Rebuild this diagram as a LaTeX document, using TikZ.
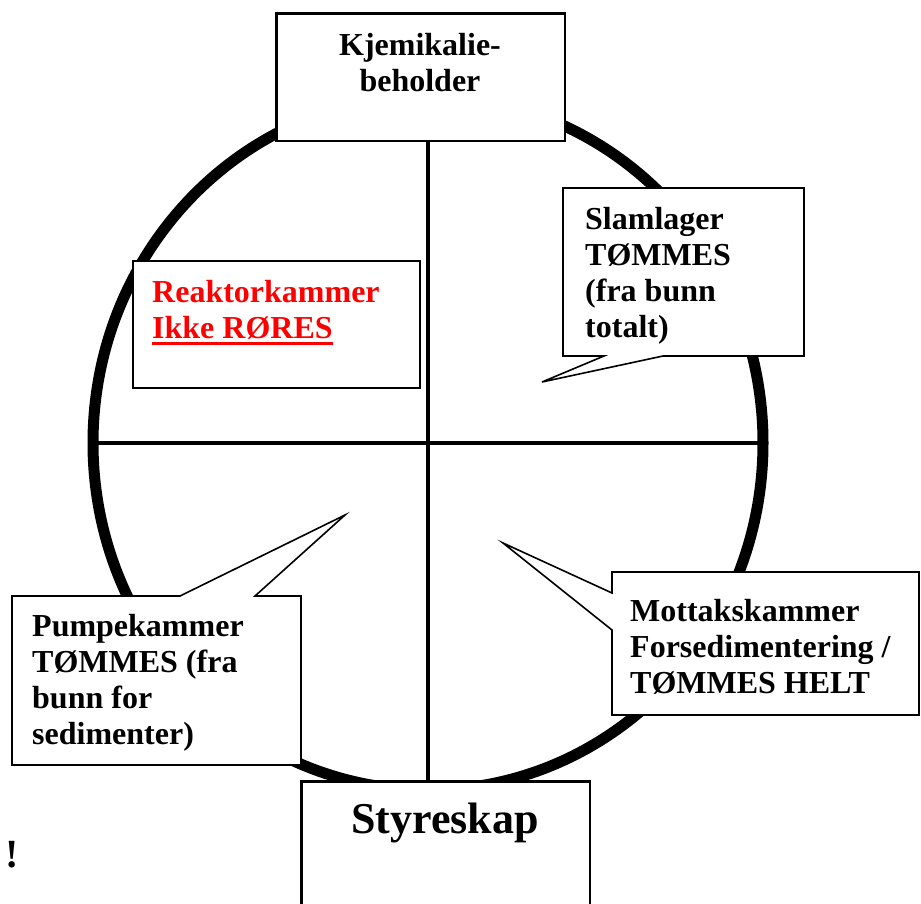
\documentclass[tikz,border=0pt]{standalone}
\usepackage{fontspec}
\setmainfont{Liberation Serif}
\newcommand\myul[1]{\setbox0\hbox{#1}\rlap{\rule[-7pt]{\wd0}{3.5pt}}\box0}
\begin{document}
\begin{tikzpicture}[x=1pt,y=-1pt,
  txt/.style={font=\fontsize{32}{36}\selectfont\bfseries, align=left, inner sep=0pt, anchor=base west},
  boxline/.style={draw=black, line width=1.6pt, fill=white},
  divider/.style={draw=black, line width=4pt},
  rim/.style={draw=black, line width=11pt}]
\useasboundingbox (0,0) rectangle (921,904);
\clip (0,0) rectangle (921,904);
% tank rim
\coordinate (c) at (428,443);
\draw[rim] (c) ellipse [x radius=335pt, y radius=347pt];
% boxes top and bottom
\node[boxline, minimum width=288pt, minimum height=127pt, anchor=north west, inner sep=0pt] (kj) at (276,13) {};
\node[boxline, minimum width=288pt, minimum height=140pt, anchor=north west, inner sep=0pt] (sty) at (301,781) {};
% dividers
\coordinate (hl) at (93,443);
\coordinate (hr) at (763,443);
\draw[divider] (c |- kj.south) -- (c |- sty.north);
\draw[divider] (hl) -- (hr);
% redraw box outlines above the divider ends
\draw[boxline, fill=none] (kj.north west) rectangle (kj.south east);
\draw[boxline, fill=none] (sty.north west) rectangle (sty.south east);
\node[txt, align=center, anchor=base] (kjt) at (420,92) {Kjemikalie-\\beholder};
\node[txt, font=\fontsize{44}{50}\selectfont\bfseries, anchor=base] (styt) at (445,833) {Styreskap};
% Reaktorkammer
\node[boxline, minimum width=287pt, minimum height=127pt, anchor=north west, inner sep=0pt] (rk) at (132,260) {};
\node[txt, text=red] (rkt) at (152,338) {Reaktorkammer\\\myul{Ikke RØRES}};
% Slamlager callout
\coordinate (slt) at (542,382);
\draw[boxline] (563,188) -- (804,188) -- (804,356) -- (663,356) -- (slt) -- (604,356) -- (563,356) -- cycle;
\node[txt] (slm) at (585,337) {Slamlager\\TØMMES\\(fra bunn\\totalt)};
% Pumpekammer callout
\coordinate (pkt) at (345,515);
\draw[boxline] (12,596) -- (180,596) -- (pkt) -- (255,596) -- (301,596) -- (301,765) -- (12,765) -- cycle;
\node[txt] (pkm) at (32,744) {Pumpekammer\\TØMMES (fra\\bunn for\\sedimenter)};
% Mottakskammer callout
\coordinate (mkt) at (503,543);
\draw[boxline] (612,572) -- (919,572) -- (919,715) -- (612,715) -- (612,630) -- (mkt) -- (612,593) -- cycle;
\node[txt] (mkm) at (630,693) {Mottakskammer\\Forsedimentering /\\TØMMES HELT};
% exclamation
\node[txt, font=\fontsize{40}{44}\selectfont\bfseries] (ex) at (5,867) {!};
\end{tikzpicture}
\end{document}
